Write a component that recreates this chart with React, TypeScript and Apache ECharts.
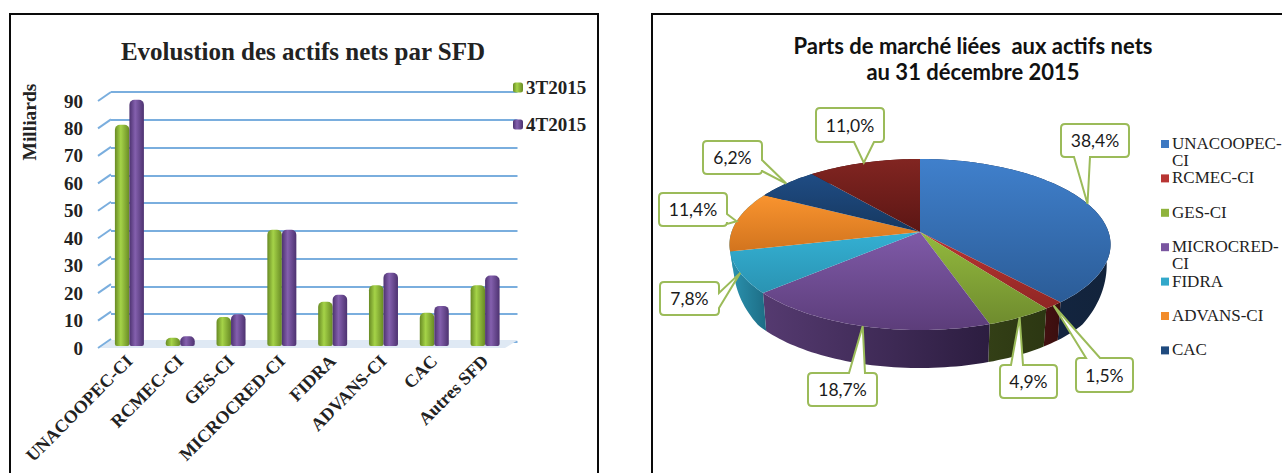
import React, { useEffect, useRef } from "react";
import * as echarts from "echarts";

const barCategories = ["UNACOOPEC-CI", "RCMEC-CI", "GES-CI", "MICROCRED-CI", "FIDRA", "ADVANS-CI", "CAC", "Autres SFD"];
const values3T = [80, 3, 10.5, 42, 16, 22, 12, 22];
const values4T = [89, 3.5, 11.5, 42, 18.5, 26.5, 14.5, 25.5];
const yTicks = [0, 10, 20, 30, 40, 50, 60, 70, 80, 90];

const pieCategories = ["UNACOOPEC-CI", "RCMEC-CI", "GES-CI", "MICROCRED-CI", "FIDRA", "ADVANS-CI", "CAC", "Autres SFD"];
const pieValues = [38.4, 1.5, 4.9, 18.7, 7.8, 11.4, 6.2, 11.0];
const legendLabels = ["UNACOOPEC-\nCI", "RCMEC-CI", "GES-CI", "MICROCRED-\nCI", "FIDRA", "ADVANS-CI", "CAC"];

const topColors = [
  ["#4080cc", "#2b5c97"], ["#bb3533", "#8f2624"], ["#93b93e", "#6f8c2e"], ["#7f5aa8", "#5c3d7a"],
  ["#34b0d3", "#2a93b2"], ["#f9942f", "#d2741e"], ["#1f4c84", "#163860"], ["#812521", "#5c1614"],
];
const wallColors = [
  ["#16294a", "#12233b"], ["#431111", "#3a0e0e"], ["#333f16", "#2c3712"], ["#553a70", "#2c1d40"],
  ["#2b93b0", "#1d6d85"], ["#2b93b0", "#2b93b0"], ["#123050", "#123050"], ["#4a1210", "#4a1210"],
];
const legendColors = ["#3d78c2", "#b83533", "#8fb33c", "#7a56a0", "#32a8ca", "#f28c2a", "#1f4a7e"];

// Callout boxes of the pie labels, in page pixels: box, side of the pointer, and pointer base.
const callouts = [
  { x: 1061, y: 124, w: 68, h: 33, side: "b", a: 1074, b: 1090 },
  { x: 1076, y: 358, w: 57, h: 34, side: "t", a: 1086, b: 1100 },
  { x: 1000, y: 365, w: 57, h: 33, side: "t", a: 1011, b: 1023 },
  { x: 808, y: 373, w: 69, h: 33, side: "t", a: 849, b: 865 },
  { x: 660, y: 282, w: 59, h: 33, side: "r", a: 293, b: 308 },
  { x: 659, y: 193, w: 68, h: 33, side: "r", a: 214, b: 224 },
  { x: 703, y: 141, w: 59, h: 33, side: "r", a: 160, b: 171 },
  { x: 816, y: 108, w: 68, h: 34, side: "b", a: 854, b: 874 },
];

const PIE = { cx: 920, cy: 232, R: 188.5, S: 83.7, k: 0.146, shrink: 0.98 };
const total = pieValues.reduce((a, b) => a + b, 0);
const startShare = (i: number) => pieValues.slice(0, i).reduce((a, b) => a + b, 0) / total;

function rim(share: number) {
  const t = share * Math.PI * 2;
  const u = Math.sin(t);
  const v = -Math.cos(t);
  const w = 1 - PIE.k * v;
  return [PIE.cx + (PIE.R * u) / w, PIE.cy + (PIE.S * v) / w, v];
}
function arc(from: number, to: number) {
  const n = Math.max(4, Math.ceil((to - from) * 240));
  const pts: number[][] = [];
  for (let i = 0; i <= n; i++) pts.push(rim(from + ((to - from) * i) / n));
  return pts;
}
const wallDepth = (v: number) => 14 + 24 * Math.max(0, Math.min(1, v / 0.6));
const vgrad = (c: string[]) => new echarts.graphic.LinearGradient(0, 0, 0, 1, [{ offset: 0, color: c[0] }, { offset: 1, color: c[1] }]);
const hgrad = (c: string[]) => new echarts.graphic.LinearGradient(0, 0, 1, 0, [{ offset: 0, color: c[0] }, { offset: 1, color: c[1] }]);
const barGrad = (edge: string, mid: string) =>
  new echarts.graphic.LinearGradient(0, 0, 1, 0, [
    { offset: 0, color: edge }, { offset: 0.4, color: mid }, { offset: 1, color: edge },
  ]);

function renderWall(params: any, api: any) {
  const i = params.dataIndex;
  const from = startShare(i);
  const to = from + api.value(0) / total;
  const top = arc(from, to);
  const bottom = top
    .map((p) => [PIE.cx + (p[0] - PIE.cx) * PIE.shrink, p[1] + wallDepth(p[2])])
    .reverse();
  return {
    type: "polygon",
    shape: { points: top.map((p) => [p[0], p[1]]).concat(bottom) },
    style: { fill: hgrad(wallColors[i]) },
  };
}
function renderTop(params: any, api: any) {
  const i = params.dataIndex;
  const from = startShare(i);
  const to = from + api.value(0) / total;
  return {
    type: "polygon",
    shape: { points: [[PIE.cx, PIE.cy], ...arc(from, to).map((p) => [p[0], p[1]])] },
    style: { fill: vgrad(topColors[i]) },
  };
}
function calloutPath(c: any, tip: number[]) {
  const r = 4;
  const { x, y, w, h, side, a, b } = c;
  const X = x + w;
  const Y = y + h;
  let d = `M${x + r} ${y}`;
  if (side === "t") d += `L${a} ${y}L${tip[0]} ${tip[1]}L${b} ${y}`;
  d += `L${X - r} ${y}Q${X} ${y} ${X} ${y + r}`;
  if (side === "r") d += `L${X} ${a}L${tip[0]} ${tip[1]}L${X} ${b}`;
  d += `L${X} ${Y - r}Q${X} ${Y} ${X - r} ${Y}`;
  if (side === "b") d += `L${b} ${Y}L${tip[0]} ${tip[1]}L${a} ${Y}`;
  d += `L${x + r} ${Y}Q${x} ${Y} ${x} ${Y - r}L${x} ${y + r}Q${x} ${y} ${x + r} ${y}Z`;
  return d;
}
function renderCallout(params: any, api: any) {
  const i = params.dataIndex;
  const v = api.value(0);
  const tip = rim(startShare(i) + v / total / 2);
  const c = callouts[i];
  return {
    type: "group",
    children: [
      { type: "path", shape: { pathData: calloutPath(c, tip) }, style: { fill: "#ffffff", stroke: "#9bbb59", lineWidth: 2 } },
      {
        type: "text",
        style: {
          x: c.x + c.w / 2, y: c.y + c.h / 2, text: v.toFixed(1).replace(".", ",") + "%",
          align: "center", verticalAlign: "middle", fill: "#1a1a1a", font: "17.5px Lato",
        },
      },
    ],
  };
}
function renderStub(params: any, api: any) {
  const p = api.coord([0, api.value(0)]);
  const x0 = params.coordSys.x;
  const stub = {
    type: "line",
    shape: { x1: x0, y1: p[1], x2: x0 + 13, y2: p[1] - 9 },
    style: { stroke: "#7aaede", lineWidth: 2 },
  };
  if (api.value(0) !== 0) return stub;
  const floor = {
    type: "polygon",
    shape: { points: [[x0 + 2, p[1]], [x0 + 13, p[1] - 8], [x0 + 420, p[1] - 8], [x0 + 407, p[1]]] },
    style: { fill: "#dfe9f4" },
  };
  return { type: "group", children: [floor, stub] };
}

const serif = "'Liberation Serif'";

export default function App() {
  const ref = useRef<HTMLDivElement>(null);
  useEffect(() => {
    const chart = echarts.init(ref.current!, undefined, { renderer: "svg" });
    const legendGraphics = legendLabels.flatMap((name, i) => {
      const y = 144 + i * 34.4;
      return [
        { type: "rect", shape: { x: 1161, y: y - 4, width: 8, height: 8 }, style: { fill: legendColors[i] } },
        {
          type: "text", x: 1172, y: y - 9,
          style: { text: name, fill: "#222", font: `17px ${serif}`, lineHeight: 17, verticalAlign: "top" },
        },
      ];
    });
    const hiddenCat = (gridIndex: number, show = false) => ({
      type: "category", gridIndex, data: barCategories, show,
      axisLine: { show: false }, axisTick: { show: false },
    });
    chart.setOption({
      animation: false,
      backgroundColor: "#ffffff",
      title: [
        {
          text: "Evolustion des actifs nets par SFD", left: 298, top: 34, textAlign: "center",
          textStyle: { fontFamily: serif, fontWeight: "bold", fontSize: 25, color: "#222" },
        },
        {
          text: "Parts de marché liées  aux actifs nets\nau 31 décembre 2015", left: 968, top: 27, textAlign: "center",
          textStyle: { fontFamily: "Lato", fontWeight: "bold", fontSize: 22, lineHeight: 26, color: "#111" },
        },
      ],
      legend: {
        orient: "vertical", left: 508, top: 73, itemWidth: 10, itemHeight: 10, itemGap: 18,
        data: ["3T2015", "4T2015"],
        textStyle: { fontFamily: serif, fontWeight: "bold", fontSize: 19, color: "#222", padding: [0, 0, 0, -2] },
      },
      grid: [
        { left: 111, width: 406.5, top: 92, height: 250 },
        { left: 98, width: 407, top: 101, height: 247 },
        { left: 104, width: 406.5, top: 97, height: 249 },
      ],
      xAxis: [
        hiddenCat(0),
        hiddenCat(1),
        {
          type: "category", gridIndex: 2, data: barCategories,
          axisLine: { show: false }, axisTick: { show: false },
          axisLabel: {
            rotate: 45, margin: 12, interval: 0, color: "#222",
            fontFamily: serif, fontWeight: "bold", fontSize: 18,
          },
        },
      ],
      yAxis: [
        {
          type: "value", gridIndex: 0, min: 0, max: 90, interval: 10,
          axisLabel: { show: false }, axisLine: { show: false }, axisTick: { show: false },
          splitLine: { show: true, lineStyle: { color: "#7aaede", width: 2 } },
        },
        {
          type: "value", gridIndex: 1, min: 0, max: 90, interval: 10,
          axisLine: { show: false }, axisTick: { show: false }, splitLine: { show: false },
          axisLabel: { margin: 15, color: "#222", fontFamily: serif, fontWeight: "bold", fontSize: 19 },
        },
        {
          type: "value", gridIndex: 2, min: 0, max: 90, interval: 10, show: false, splitLine: { show: false },
        },
      ],
      series: [
        {
          type: "custom", name: "axe", xAxisIndex: 1, yAxisIndex: 1, silent: true, clip: false, z: 1,
          encode: { y: 0 }, data: yTicks.map((v) => [v]), renderItem: renderStub,
        },
        {
          type: "bar", name: "3T2015", xAxisIndex: 2, yAxisIndex: 2, data: values3T, barWidth: 14.5, barGap: "0%", z: 3,
          itemStyle: { color: barGrad("#688a24", "#a5d348"), borderRadius: [5, 5, 2, 2] },
        },
        {
          type: "bar", name: "4T2015", xAxisIndex: 2, yAxisIndex: 2, data: values4T, barWidth: 14.5, barGap: "0%", z: 3,
          itemStyle: { color: barGrad("#4d3270", "#8460ae"), borderRadius: [5, 5, 2, 2] },
        },
        {
          type: "custom", name: "Parts de marché (côté)", coordinateSystem: "none", silent: true, z: 4,
          data: pieValues.map((v, i) => ({ name: pieCategories[i], value: [v] })), renderItem: renderWall,
        },
        {
          type: "custom", name: "Parts de marché", coordinateSystem: "none", silent: true, z: 5,
          data: pieValues.map((v, i) => ({ name: pieCategories[i], value: [v] })), renderItem: renderTop,
        },
        {
          type: "custom", name: "Étiquettes", coordinateSystem: "none", silent: true, z: 6,
          data: pieValues.map((v, i) => ({ name: pieCategories[i], value: [v] })), renderItem: renderCallout,
        },
      ],
      graphic: [
        { type: "rect", z: -1, shape: { x: 10, y: 14, width: 588, height: 520 }, style: { fill: "none", stroke: "#0a0a0a", lineWidth: 2 } },
        { type: "rect", z: -1, shape: { x: 652, y: 14, width: 700, height: 520 }, style: { fill: "none", stroke: "#0a0a0a", lineWidth: 2 } },
        {
          type: "text", x: 29, y: 122, rotation: Math.PI / 2,
          style: { text: "Milliards", fill: "#222", font: `bold 19.5px ${serif}`, align: "center", verticalAlign: "middle" },
        },
        ...legendGraphics,
      ],
    });
    return () => chart.dispose();
  }, []);
  return <div ref={ref} style={{ position: "absolute", left: 0, top: 0, width: 1282, height: 473, overflow: "hidden" }} />;
}
